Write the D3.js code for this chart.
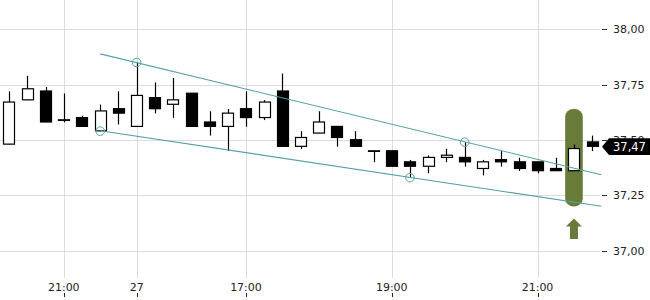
<!DOCTYPE html>
<html>
<head>
<meta charset="utf-8">
<script src="https://cdn.jsdelivr.net/npm/d3@7/dist/d3.min.js"></script>
<style>
  body { margin: 0; background: #fff; }
  svg { display: block; font-family: "DejaVu Sans", sans-serif; }
</style>
</head>
<body>
<svg width="650" height="300"></svg>
<script>
// candles (15 min bars)
var opens  = [37.48,37.68,37.72,37.59,37.60,37.54,37.64,37.56,37.69,37.66,37.71,37.58,37.56,37.64,37.60,37.72,37.47,
              37.53,37.56,37.50,37.45,37.45,37.40,37.38,37.42,37.42,37.37,37.41,37.40,37.40,37.37,37.36,37.49];
var highs  = [37.72,37.79,37.74,37.71,37.61,37.66,37.72,37.85,37.76,37.78,37.71,37.63,37.64,37.72,37.68,37.80,37.54,
              37.63,37.56,37.54,37.45,37.45,37.41,37.43,37.46,37.49,37.41,37.45,37.42,37.40,37.42,37.48,37.52];
var lows   = [37.48,37.68,37.58,37.58,37.56,37.54,37.57,37.56,37.62,37.60,37.56,37.52,37.45,37.56,37.59,37.47,37.46,
              37.53,37.47,37.47,37.40,37.38,37.33,37.35,37.40,37.38,37.34,37.38,37.36,37.35,37.36,37.36,37.45];
var closes = [37.67,37.73,37.58,37.59,37.56,37.63,37.62,37.70,37.64,37.68,37.56,37.56,37.62,37.60,37.67,37.47,37.51,
              37.58,37.51,37.47,37.45,37.38,37.38,37.42,37.43,37.40,37.40,37.40,37.37,37.36,37.36,37.46,37.47];

var xTickIdx = [3, 7, 13, 21, 29];
var xTickLabels = ["21:00", "27", "17:00", "19:00", "21:00"];
var yTicks = [37.00, 37.25, 37.50, 37.75, 38.00];

// trend channel (index, price) and touch points
var upperTrend = [[5, 37.889], [32.5, 37.343]];
var lowerTrend = [[5, 37.542], [32.5, 37.201]];
var touches = [[7, 37.85], [25, 37.49], [5, 37.54], [22, 37.33]];

var highlight = { index: 31, top: 37.64, bottom: 37.20 };
var lastPrice = 37.47;

var n = opens.length;
var svg = d3.select("svg");
var W = 601.3;

var x = d3.scaleBand().domain(d3.range(n)).range([0, W]).paddingInner(0.38).paddingOuter(0.19);
var xi = d3.scaleLinear().domain([-0.5, n - 0.5]).range([0, W]);
var y = d3.scaleLinear().domain([37, 38]).range([250.7, 29.3]);

var loc = d3.formatLocale({ decimal: ",", thousands: ".", grouping: [3], currency: ["", "€"] });
var fmt = loc.format(".2f");

var grid = "#dcdcdc";
var teal = "#55a0a8";
var olive = "#687b38";

// grid
svg.append("g").selectAll("line").data(yTicks).enter().append("line")
  .attr("x1", 0).attr("x2", 600)
  .attr("y1", function(d) { return Math.round(y(d)) + 0.5; })
  .attr("y2", function(d) { return Math.round(y(d)) + 0.5; })
  .attr("stroke", grid);

svg.append("g").selectAll("line").data(xTickIdx).enter().append("line")
  .attr("x1", function(d) { return Math.round(xi(d)) + 0.5; })
  .attr("x2", function(d) { return Math.round(xi(d)) + 0.5; })
  .attr("y1", 0).attr("y2", 278)
  .attr("stroke", grid);

// y axis on the right
var ya = svg.append("g");
ya.selectAll("line").data(yTicks).enter().append("line")
  .attr("x1", 602).attr("x2", 607)
  .attr("y1", function(d) { return Math.round(y(d)) + 0.5; })
  .attr("y2", function(d) { return Math.round(y(d)) + 0.5; })
  .attr("stroke", "#333");
ya.selectAll("text").data(yTicks).enter().append("text")
  .attr("x", 613).attr("y", function(d) { return y(d); })
  .attr("dy", "0.36em")
  .attr("font-size", 11).attr("fill", "#222")
  .text(function(d) { return fmt(d); });

// x axis labels
var xa = svg.append("g");
xa.selectAll("text").data(xTickIdx).enter().append("text")
  .attr("x", function(d) { return xi(d); }).attr("y", 291)
  .attr("text-anchor", "middle").attr("font-size", 11).attr("fill", "#222")
  .text(function(d, i) { return xTickLabels[i]; });
xa.selectAll("line").data(xTickIdx).enter().append("line")
  .attr("x1", function(d) { return Math.round(xi(d)) + 0.5; })
  .attr("x2", function(d) { return Math.round(xi(d)) + 0.5; })
  .attr("y1", 293).attr("y2", 297)
  .attr("stroke", "#222");

// highlight pill behind the candle
var hw = 17.6;
svg.append("rect")
  .attr("x", xi(highlight.index) - hw / 2).attr("width", hw)
  .attr("y", y(highlight.top)).attr("height", y(highlight.bottom) - y(highlight.top))
  .attr("rx", 8).attr("ry", 8)
  .attr("fill", olive);

// up arrow under it
var ax = xi(highlight.index), ay = y(highlight.bottom) + 12;
svg.append("path")
  .attr("d", "M" + ax + "," + ay + " L" + (ax + 8) + "," + (ay + 8) + " L" + (ax + 4) + "," + (ay + 8) +
             " L" + (ax + 4) + "," + (ay + 20.5) + " L" + (ax - 4) + "," + (ay + 20.5) +
             " L" + (ax - 4) + "," + (ay + 8) + " L" + (ax - 8) + "," + (ay + 8) + " Z")
  .attr("fill", olive);

// candles
var idx = d3.range(n);
var cg = svg.append("g");
cg.selectAll("line").data(idx).enter().append("line")
  .attr("x1", function(i) { return Math.round(xi(i)) + 0.5; })
  .attr("x2", function(i) { return Math.round(xi(i)) + 0.5; })
  .attr("y1", function(i) { return y(highs[i]); })
  .attr("y2", function(i) { return y(lows[i]); })
  .attr("stroke", "#000").attr("stroke-width", 1.2);
cg.selectAll("rect").data(idx).enter().append("rect")
  .attr("x", function(i) { return Math.round(x(i)) + 0.5; })
  .attr("width", Math.round(x.bandwidth()))
  .attr("y", function(i) { return y(Math.max(opens[i], closes[i])) - 0.3; })
  .attr("height", function(i) { return Math.max(Math.abs(y(opens[i]) - y(closes[i])), 0.6); })
  .attr("fill", function(i) { return closes[i] >= opens[i] ? "#fff" : "#000"; })
  .attr("stroke", "#000").attr("stroke-width", 1.2);

// trend channel
var line = d3.line().x(function(d) { return xi(d[0]); }).y(function(d) { return y(d[1]); });
svg.append("path").attr("d", line(upperTrend)).attr("fill", "none").attr("stroke", teal).attr("stroke-width", 1.1);
svg.append("path").attr("d", line(lowerTrend)).attr("fill", "none").attr("stroke", teal).attr("stroke-width", 1.1);
svg.append("g").selectAll("circle").data(touches).enter().append("circle")
  .attr("cx", function(d) { return xi(d[0]); })
  .attr("cy", function(d) { return y(d[1]); })
  .attr("r", 4.3)
  .attr("fill", "none").attr("stroke", teal).attr("stroke-width", 1);

// last price tag
var ly = y(lastPrice);
svg.append("path")
  .attr("d", "M602," + ly + " L609," + (ly - 8.3) + " L650," + (ly - 8.3) + " L650," + (ly + 8.3) +
             " L609," + (ly + 8.3) + " Z")
  .attr("fill", "#000");
svg.append("text")
  .attr("x", 613).attr("y", ly).attr("dy", "0.36em")
  .attr("font-size", 11.5).attr("fill", "#fff")
  .text(fmt(lastPrice));
</script>
</body>
</html>
